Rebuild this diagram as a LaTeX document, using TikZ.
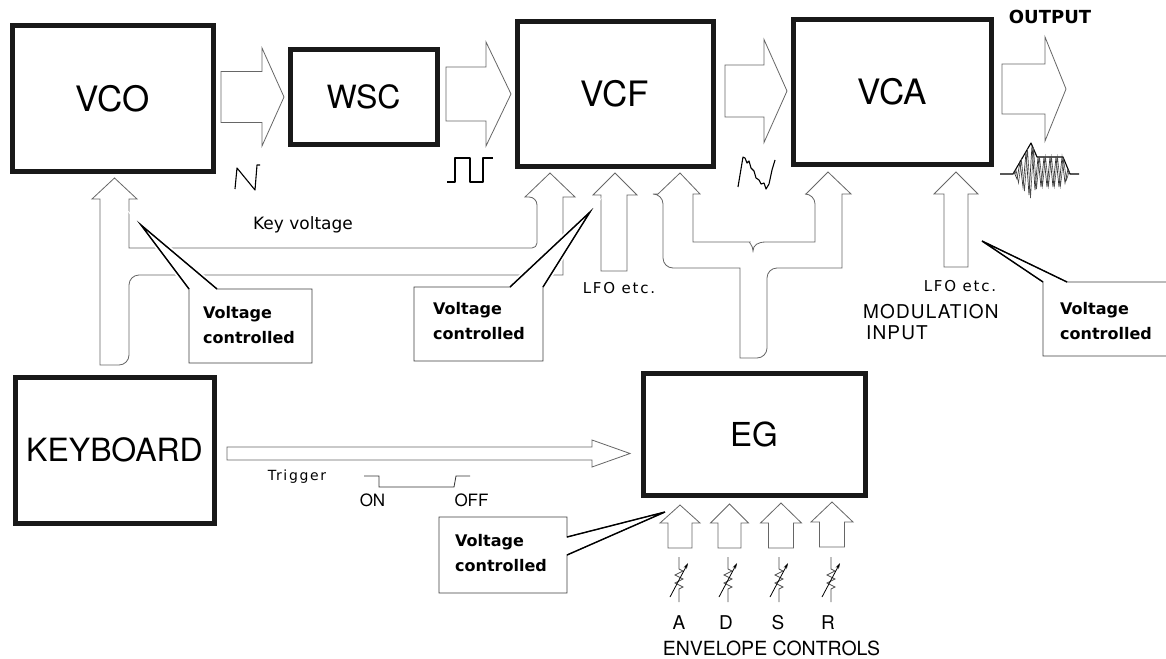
\documentclass[tikz,border=0pt]{standalone}
\usepackage{fontspec}
\setmainfont{TeX Gyre Heros}
\newfontfamily\dejafont{DejaVu Sans}
\newfontfamily\dejasp[LetterSpace=12]{DejaVu Sans}
\newfontfamily\herosp[LetterSpace=6]{TeX Gyre Heros}
\usetikzlibrary{arrows.meta}
\newcommand\hblock[6]{\draw[barrow] (#1,#4-#5) -- (#2,#4-#5) -- (#2,#4-#6) -- (#3,#4) -- (#2,#4+#6) -- (#2,#4+#5) -- (#1,#4+#5) -- cycle;}
\newcommand\vblock[6]{\draw[barrow] (#1-#5,#2) -- (#1-#5,#3) -- (#1-#6,#3) -- (#1,#4) -- (#1+#6,#3) -- (#1+#5,#3) -- (#1+#5,#2) -- cycle;}
\newcommand\mycallout[1]{\path[halo] #1; \path[callout] #1;}
\begin{document}
\begin{tikzpicture}[x=1pt,y=-1pt,
  mod/.style={draw=black!90, line width=5pt, inner sep=0pt, font=\fontsize{35}{40}\selectfont},
  barrow/.style={draw=black!60, line width=0.8pt, fill=white, line join=miter},
  callout/.style={draw=black!75, line width=0.9pt, fill=white},
  halo/.style={draw=white, line width=5pt},
  pointer/.style={draw=black, line width=1.4pt, line join=miter},
  vc/.style={font=\dejafont\bfseries\fontsize{16}{25}\selectfont, align=left, anchor=west, inner sep=0pt},
  wave/.style={draw=black, line width=1.1pt, line join=round},
  lfo/.style={font=\dejasp\fontsize{15}{18}\selectfont, inner sep=0pt},
  small/.style={font=\fontsize{19}{22}\selectfont, inner sep=0pt}]
\useasboundingbox (0,0) rectangle (1166,658);
\fill[white] (0,0) rectangle (1166,658);

% modules
\node[mod, minimum width=201pt, minimum height=145pt] (vco) at (112.5,98.5) {VCO};
\node[mod, minimum width=147pt, minimum height=94pt, font=\fontsize{32}{36}\selectfont] (wsc) at (363.5,97) {WSC};
\node[mod, minimum width=196pt, minimum height=144pt] (vcf) at (615,94) {VCF};
\node[mod, minimum width=198pt, minimum height=144pt] (vca) at (892,92) {VCA};
\node[mod, minimum width=199pt, minimum height=146pt, font=\fontsize{32}{36}\selectfont] (kbd) at (114.5,450) {KEYBOARD};
\node[mod, minimum width=222pt, minimum height=122pt, font=\fontsize{33}{36}\selectfont] (eg) at (754,434) {EG};

% signal flow block arrows
\hblock{221}{262}{284}{97}{25.5}{49}
\hblock{446}{486}{511}{94}{27}{52}
\hblock{725}{764}{787}{91}{26}{51.5}
\hblock{1002}{1045}{1066}{89}{25}{52}
\hblock{227}{592}{630}{453.5}{6.5}{13.5}

% keyboard -> VCO and key voltage -> VCF
\draw[barrow] (100,365) -- (100,199) -- (92,199) -- (114.5,178) -- (137,199) -- (129,199) -- (129,248) [rounded corners=5pt] -- (537,248) [rounded corners=8pt] -- (537,197) [sharp corners] -- (525,197) -- (550,173) -- (575,197) -- (563,197) -- (563,275) [rounded corners=10pt] -- (129,275) -- (129,365) [sharp corners] -- cycle;

% LFO arrows
\draw[barrow] (601,271) -- (601,195) -- (593,195) -- (615,173) -- (637,195) -- (627,195) -- (627,271) -- cycle;
\draw[barrow] (944,267) -- (944,194) -- (934,194) -- (956,172) -- (978,194) -- (968,194) -- (968,267) -- cycle;

% EG -> VCF and VCA
\draw[barrow] (740,358) -- (740,268) [rounded corners=10pt] -- (663,268) -- (663,194) [sharp corners] -- (658,194) -- (680,173) -- (700,194) -- (693,194) -- (693,242) [rounded corners=10pt] -- (740,242) [sharp corners] .. controls (748,242) and (753,245) .. (753,251) .. controls (753,245) and (758,242) .. (766,242) -- (815,242) [rounded corners=10pt] -- (815,194) [sharp corners] -- (806,194) -- (828,172) -- (851,194) -- (842,194) -- (842,268) [rounded corners=10pt] -- (767,268) -- (767,358) [sharp corners] -- cycle;

% envelope control arrows
\vblock{680}{548}{523}{505}{12}{20}
\vblock{729.5}{548}{523}{504}{11.5}{19}
\vblock{781}{548}{523}{503}{12.5}{20.5}
\vblock{832}{547}{522}{502}{12.5}{21}

% variable resistors
\foreach \c in {679,728,779,831} {
  \draw[line width=0.7pt, black!70] (\c,557) -- (\c,569) -- (\c+4,571) -- (\c-4,575) -- (\c+4,579) -- (\c-4,583) -- (\c+4,587) -- (\c,589) -- (\c,602);
  \draw[line width=0.8pt, -{Stealth[length=6pt,width=3.5pt]}] (\c-9,597) -- (\c+9,563);
}

% callouts
\mycallout{(189,363) -- (189,289) -- (141,225) -- (217,289) -- (312,289) -- (312,363) -- cycle}
\draw[pointer] (189,289) -- (141,225) -- (217,289);
\mycallout{(414,287) -- (510,287) -- (590,212) -- (543,287) -- (543,361) -- (414,361) -- cycle}
\draw[pointer] (510,287) -- (590,212) -- (543,287);
\mycallout{(1175,282) -- (1067,282) -- (982,241) -- (1043,282) -- (1043,356) -- (1175,356)}
\draw[pointer] (1067,282) -- (982,241) -- (1043,282);
\mycallout{(439,517) -- (567,517) -- (567,537) -- (665,512) -- (567,555) -- (567,593) -- (439,593) -- cycle}
\draw[pointer] (567,537) -- (665,512) -- (567,555);

\node[vc] (vc1) at (203,325) {Voltage\\controlled};
\node[vc] (vc2) at (433,321.5) {Voltage\\controlled};
\node[vc] (vc3) at (1060,321.5) {Voltage\\controlled};
\node[vc] (vc4) at (455,553.5) {Voltage\\controlled};

% waveforms
\draw[wave] (235,189) -- (237,168) -- (255,190) -- (257,165) -- (260,165);
\draw[wave] (447,182) -- (455,182) -- (455,158) -- (470,158) -- (470,182) -- (483,182) -- (483,158) -- (493,158);
\draw[wave] (738,187) -- (743,157) -- (745,158) -- (747,163) -- (749,161) -- (751,168) -- (754,171) -- (756,178) -- (759,180) -- (761,184) -- (764,183) -- (766,189) -- (769,184) -- (772,170) -- (775,160);
\draw[wave] (1000,174) -- (1013,174) -- (1031,143) -- (1037,157) -- (1063,157) -- (1070,174) -- (1079,174);
\draw[line width=0.7pt, black!80] (1013,174) -- (1014,172) -- (1017,179) -- (1020,162) -- (1023,187) -- (1026,152) -- (1029,195) -- (1032,145) -- (1035,190) -- (1038,157) -- (1041,187) -- (1044,157) -- (1047,187) -- (1050,157) -- (1053,187) -- (1056,157) -- (1059,187) -- (1062,157) -- (1065,183) -- (1068,169) -- (1070,174);
\draw[line width=0.6pt, black!70] (1015,174) -- (1016,170) -- (1018.5,183) -- (1021.5,160) -- (1024.5,191) -- (1027.5,149) -- (1030.5,198) -- (1033.5,148) -- (1036.5,189) -- (1039.5,157) -- (1042.5,186) -- (1045.5,157) -- (1048.5,186) -- (1051.5,157) -- (1054.5,186) -- (1057.5,157) -- (1060.5,186) -- (1063.5,159) -- (1066.5,180) -- (1069,172);
\draw[line width=0.8pt, black!80] (364,476) -- (379,476) -- (379,487) -- (454,487) -- (456,476) -- (470,476);

% labels
\node[font=\dejafont\bfseries\fontsize{18}{20}\selectfont, inner sep=0pt] (out) at (1050,17) {OUTPUT};
\node[font=\dejafont\fontsize{17}{20}\selectfont, inner sep=0pt] (kv) at (303,225) {Key voltage};
\node[lfo] (lfo1) at (619,288) {LFO etc.};
\node[lfo] (lfo2) at (960,286) {LFO etc.};
\node[font=\herosp\fontsize{19}{22}\selectfont, anchor=west, inner sep=0pt] (mod) at (863,312) {MODULATION};
\node[font=\herosp\fontsize{19}{22}\selectfont, anchor=west, inner sep=0pt] (inp) at (866,333) {INPUT};
\node[font=\dejasp\fontsize{14}{16}\selectfont, inner sep=0pt] (trig) at (297,477) {Trigger};
\node[font=\fontsize{17}{20}\selectfont, inner sep=0pt] (on) at (372.5,500) {ON};
\node[font=\fontsize{17}{20}\selectfont, inner sep=0pt] (off) at (471.5,500) {OFF};
\node[small] (la) at (679,623) {A};
\node[small] (ld) at (726,623) {D};
\node[small] (ls) at (778,623) {S};
\node[small] (lr) at (828,623) {R};
\node[small, font=\fontsize{19.5}{22}\selectfont] (env) at (771.5,648) {ENVELOPE CONTROLS};
\end{tikzpicture}
\end{document}
